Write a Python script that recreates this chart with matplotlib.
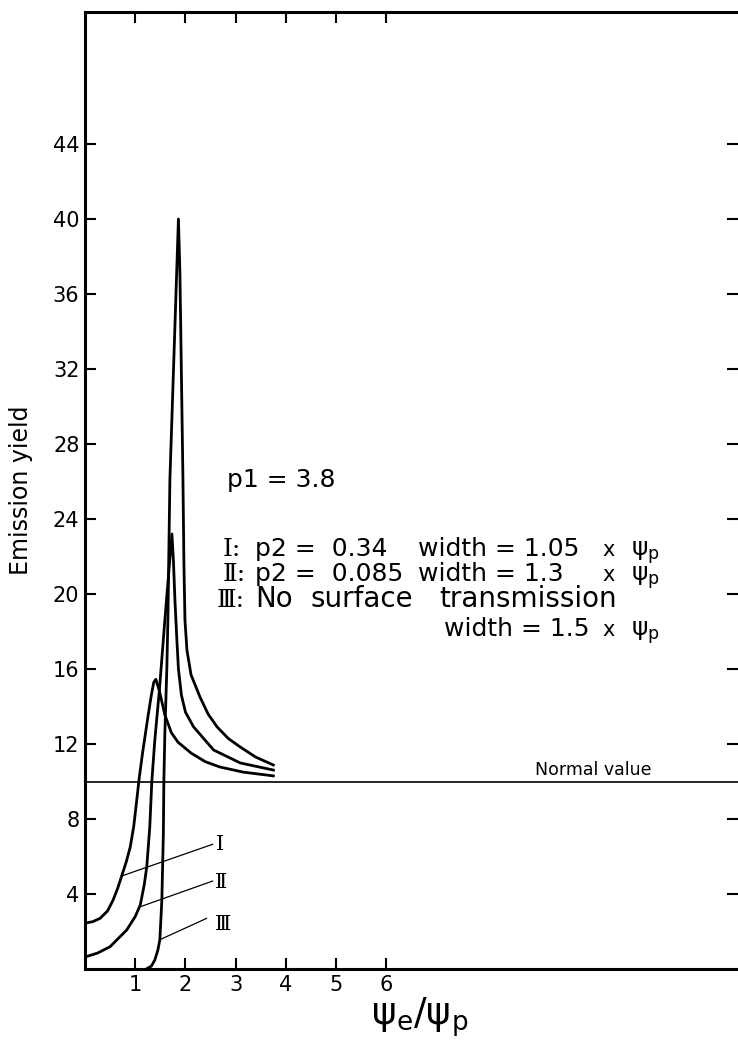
import matplotlib.pyplot as plt

# Courbes (psi_e/psi_p, rendement)
x_I = [0, 0.15, 0.30, 0.45, 0.56, 0.65, 0.73, 0.82, 0.90, 0.97, 1.03, 1.08,
       1.15, 1.25, 1.32, 1.37, 1.41, 1.48, 1.59, 1.72, 1.85, 2.12, 2.40, 2.69,
       3.15, 3.75]
y_I = [2.45, 2.52, 2.7, 3.1, 3.68, 4.3, 4.96, 5.7, 6.5, 7.6, 9.0, 10.2,
       11.6, 13.4, 14.6, 15.3, 15.45, 14.84, 13.55, 12.6, 12.1, 11.5, 11.05, 10.77,
       10.5, 10.3]

x_II = [0, 0.25, 0.50, 0.83, 1.00, 1.10, 1.18, 1.23, 1.29, 1.33, 1.39, 1.48,
        1.59, 1.73, 1.76, 1.79, 1.83, 1.86, 1.92, 2.00, 2.16, 2.56, 3.09, 3.75]
y_II = [0.64, 0.85, 1.19, 2.08, 2.8, 3.41, 4.5, 5.46, 7.59, 10.0, 12.21, 14.84,
        18.61, 23.2, 21.8, 19.7, 17.5, 16.0, 14.6, 13.7, 12.92, 11.68, 10.99, 10.61]

x_III = [1.22, 1.32, 1.39, 1.45, 1.49, 1.53, 1.56, 1.57, 1.59, 1.63, 1.65, 1.69,
         1.86, 1.89, 1.95, 1.97, 1.99, 2.03, 2.11, 2.29, 2.45, 2.63, 2.85, 3.09,
         3.40, 3.75]
y_III = [0, 0.15, 0.48, 1.0, 1.55, 3.68, 7.25, 10.0, 12.59, 16.12, 18.61, 26.08,
         40.0, 37.1, 26.08, 21.5, 18.6, 17.0, 15.7, 14.5, 13.6, 12.91, 12.3, 11.84,
         11.3, 10.88]

normal_value = 10

# traits de repere vers les etiquettes I, II, III
lead_I = ([0.73, 2.54], [4.96, 6.65])
lead_II = ([1.10, 2.54], [3.32, 4.69])
lead_III = ([1.48, 2.42], [1.55, 2.70])

xticks = [1, 2, 3, 4, 5, 6]
yticks = [4, 8, 12, 16, 20, 24, 28, 32, 36, 40, 44]

fig = plt.figure(figsize=(7.38, 10.48), dpi=100)
ax = fig.add_axes([85 / 738, 79 / 1048, 653 / 738, 957 / 1048])

for xs, ys in [(x_I, y_I), (x_II, y_II), (x_III, y_III)]:
    ax.plot(xs, ys, color='black', lw=2.0)

ax.axhline(normal_value, color='black', lw=1.2)

for xs, ys in [lead_I, lead_II, lead_III]:
    ax.plot(xs, ys, color='black', lw=0.9)

serif = 'DejaVu Serif'
ax.text(2.60, 6.65, 'Ⅰ', family=serif, fontsize=15, va='center')
ax.text(2.58, 4.60, 'Ⅱ', family=serif, fontsize=15, va='center')
ax.text(2.58, 2.40, 'Ⅲ', family=serif, fontsize=15, va='center')

ax.text(8.96, normal_value + 0.15, 'Normal value', fontsize=12.5, va='bottom')

# bloc de texte (lignes de base)
fs = 18
psi = r'$\mathregular{\psi_p}$'
ax.text(2.83, 25.72, 'p1 = 3.8', fontsize=fs, va='baseline')

ax.text(2.73, 22.02, 'Ⅰ:', family=serif, fontsize=fs, va='baseline')
ax.text(3.39, 22.02, 'p2 =  0.34', fontsize=fs, va='baseline')
ax.text(6.63, 22.02, 'width = 1.05', fontsize=fs, va='baseline')
ax.text(10.30, 22.02, 'x', fontsize=15, va='baseline')
ax.text(10.86, 22.02, psi, fontsize=18, va='baseline')

ax.text(2.73, 20.69, 'Ⅱ:', family=serif, fontsize=fs, va='baseline')
ax.text(3.39, 20.69, 'p2 =  0.085', fontsize=fs, va='baseline')
ax.text(6.63, 20.69, 'width = 1.3', fontsize=fs, va='baseline')
ax.text(10.30, 20.69, 'x', fontsize=15, va='baseline')
ax.text(10.86, 20.69, psi, fontsize=18, va='baseline')

ax.text(2.63, 19.31, 'Ⅲ:', family=serif, fontsize=fs, va='baseline')
ax.text(3.39, 19.31, 'No', fontsize=20, va='baseline')
ax.text(4.48, 19.31, 'surface', fontsize=20, va='baseline')
ax.text(7.05, 19.31, 'transmission', fontsize=20, va='baseline')

ax.text(7.15, 17.76, 'width = 1.5', fontsize=fs, va='baseline')
ax.text(10.30, 17.76, 'x', fontsize=15, va='baseline')
ax.text(10.86, 17.76, psi, fontsize=18, va='baseline')

ax.set_xlim(0, 13.0)
ax.set_ylim(0, 51.04)
ax.set_xticks(xticks)
ax.set_yticks(yticks)
ax.tick_params(direction='in', length=8, width=1.5, labelsize=15,
               top=True, right=True, pad=4)

for side in ['left', 'bottom', 'top']:
    ax.spines[side].set_linewidth(2.2)
ax.spines['right'].set_visible(False)

ax.set_ylabel('Emission yield', fontsize=17)
ax.yaxis.set_label_coords(-0.08, 0.5)
ax.set_xlabel(r'$\mathregular{\psi_e/\psi_p}$', fontsize=27, va='top')
ax.xaxis.set_label_coords(0.513, -0.027)

plt.savefig('out.png', dpi=100)
